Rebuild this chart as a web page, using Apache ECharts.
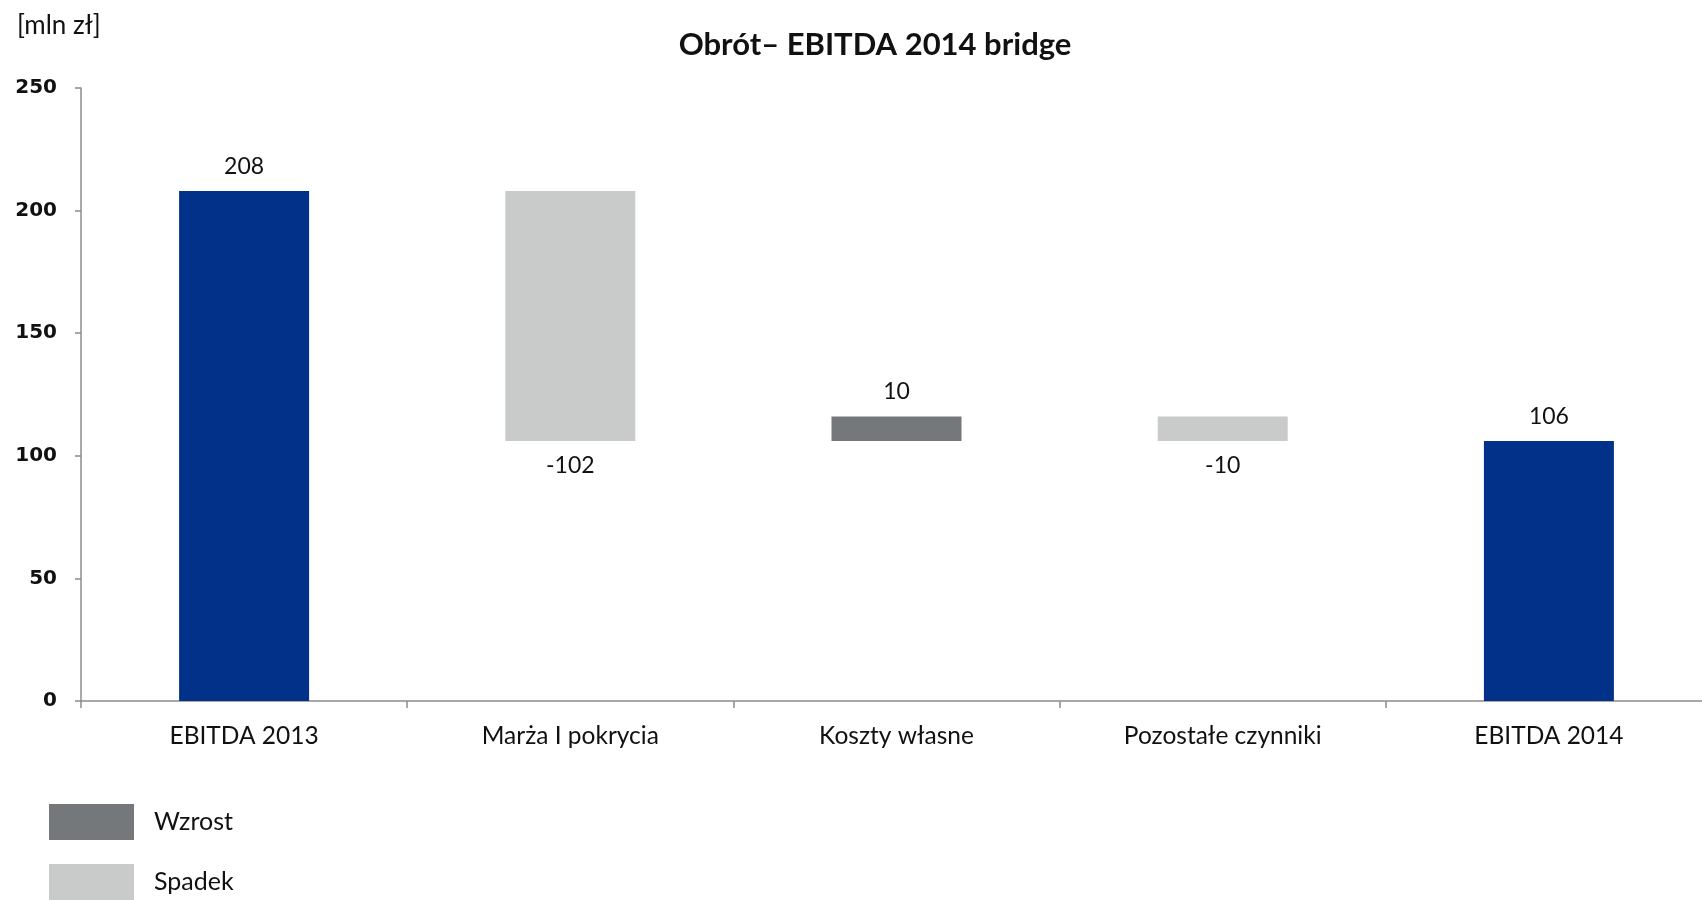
<!DOCTYPE html>
<html>
<head>
<meta charset="utf-8">
<title>Obrót– EBITDA 2014 bridge</title>
<script src="https://cdn.jsdelivr.net/npm/echarts@6/dist/echarts.min.js"></script>
<style>
  html, body { margin: 0; padding: 0; background: #ffffff; overflow: hidden; }
  /* the category axis runs slightly past the right edge of the window */
  #chart { width: 1720px; height: 900px; }
</style>
</head>
<body>
<div id="chart"></div>
<script>
// Bridge steps: opening and closing totals, with the changes in between
const categories = ['EBITDA 2013', 'Marża I pokrycia', 'Koszty własne', 'Pozostałe czynniki', 'EBITDA 2014'];
const totals = [208, null, null, null, 106];
const changes = [null, -102, 10, -10, null];
const yTicks = [0, 50, 100, 150, 200, 250];

const COLOR_TOTAL = '#02318A';
const COLOR_UP = '#75787B';
const COLOR_DOWN = '#C9CACA';
const TEXT_FONT = 'Lato, "Open Sans", sans-serif';

// Derive the invisible base and the visible step heights from the running total
const base = [], totalBars = [], upBars = [], downBars = [];
let running = 0;
categories.forEach((c, i) => {
  if (totals[i] !== null) {
    running = totals[i];
    base.push(0);
    totalBars.push(totals[i]);
    upBars.push('-');
    downBars.push('-');
  } else {
    const d = changes[i];
    const next = running + d;
    base.push(Math.min(running, next));
    totalBars.push('-');
    if (d >= 0) { upBars.push(d); downBars.push('-'); }
    else { downBars.push(-d); upBars.push('-'); }
    running = next;
  }
});

const labelStyle = {
  show: true,
  color: '#111',
  fontFamily: TEXT_FONT,
  fontSize: 23,
  distance: 13
};

const chart = echarts.init(document.getElementById('chart'), null, { renderer: 'canvas' });
chart.setOption({
  animation: false,
  backgroundColor: '#ffffff',
  title: [
    {
      text: 'Obrót– EBITDA 2014 bridge',
      left: 870, top: 24, textAlign: 'center',
      textStyle: { fontFamily: TEXT_FONT, fontWeight: 'bold', fontSize: 31, color: '#111' }
    },
    {
      text: '[mln zł]',
      left: 12, top: 8,
      textStyle: { fontFamily: TEXT_FONT, fontWeight: 'normal', fontSize: 26, color: '#111' }
    }
  ],
  legend: {
    orient: 'vertical',
    left: 49, top: 804,
    padding: 0,
    icon: 'rect',
    itemWidth: 85, itemHeight: 36, itemGap: 24,
    data: ['Wzrost', 'Spadek'],
    textStyle: { fontFamily: TEXT_FONT, fontSize: 25, color: '#111', padding: [8, 0, 0, 15] },
    selectedMode: false
  },
  grid: { left: 81, top: 88, width: 1631, bottom: 199, containLabel: false },
  xAxis: {
    type: 'category',
    data: categories,
    axisLine: { lineStyle: { color: '#8c8c8c', width: 1.5 } },
    axisTick: { show: true, length: 7, lineStyle: { color: '#8c8c8c', width: 1.5 } },
    axisLabel: { margin: 23, color: '#111', fontFamily: TEXT_FONT, fontSize: 24.5 }
  },
  yAxis: {
    type: 'value',
    min: yTicks[0], max: yTicks[yTicks.length - 1], interval: 50,
    splitLine: { show: false },
    axisLine: { show: true, lineStyle: { color: '#8c8c8c', width: 1.5 } },
    axisTick: { show: true, length: 6, lineStyle: { color: '#8c8c8c', width: 1.5 } },
    axisLabel: { margin: 24, color: '#111', fontFamily: '"DejaVu Sans", sans-serif', fontWeight: 'bold', fontSize: 20 }
  },
  series: [
    {
      name: 'base', type: 'bar', stack: 'bridge', barWidth: 130,
      itemStyle: { color: 'transparent' },
      emphasis: { disabled: true },
      data: base
    },
    {
      name: 'Suma', type: 'bar', stack: 'bridge', barWidth: 130,
      itemStyle: { color: COLOR_TOTAL },
      label: Object.assign({}, labelStyle, { position: 'top' }),
      data: totalBars
    },
    {
      name: 'Wzrost', type: 'bar', stack: 'bridge', barWidth: 130,
      itemStyle: { color: COLOR_UP },
      label: Object.assign({}, labelStyle, { position: 'top', formatter: p => String(p.value) }),
      data: upBars
    },
    {
      name: 'Spadek', type: 'bar', stack: 'bridge', barWidth: 130,
      itemStyle: { color: COLOR_DOWN },
      label: Object.assign({}, labelStyle, { position: 'bottom', formatter: p => '-' + p.value }),
      data: downBars
    }
  ]
});
</script>
</body>
</html>
